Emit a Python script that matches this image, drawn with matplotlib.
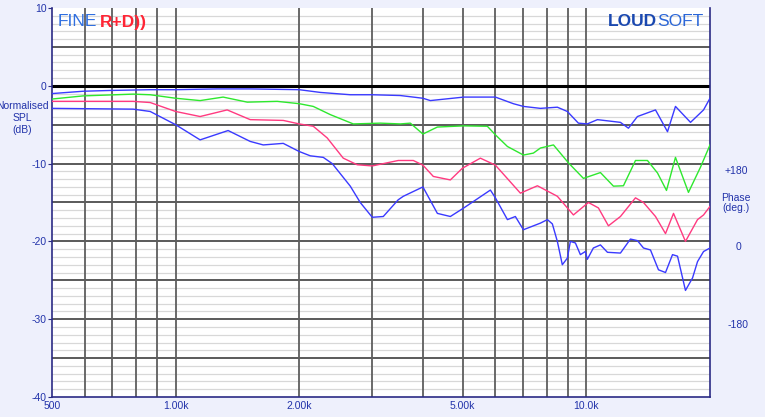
import matplotlib
matplotlib.use('Agg')
import matplotlib.pyplot as plt

plt.rcParams['font.family'] = ['Liberation Sans', 'DejaVu Sans']
plt.rcParams['axes.unicode_minus'] = False

# curves (Hz, dB)
top_f = [500, 595, 692, 867, 1000, 1262, 1519, 2000, 2249, 2662, 3011, 3523, 4000, 4170,
         5030, 6005, 6641, 7027, 7729, 8499, 8989, 9563, 10055, 10640, 12105, 12660,
         13315, 14735, 15760, 16480, 17930, 19290, 20000]
top_db = [-1.0, -0.7, -0.6, -0.5, -0.5, -0.4, -0.4, -0.5, -0.85, -1.15, -1.15, -1.25, -1.6, -1.9,
          -1.45, -1.45, -2.3, -2.65, -2.9, -2.75, -3.3, -4.8, -4.9, -4.35, -4.7, -5.45,
          -3.95, -3.1, -5.9, -2.65, -4.7, -3.1, -1.6]

green_f = [500, 595, 788, 867, 1000, 1147, 1305, 1494, 1767, 2000, 2163, 2379, 2707, 3149,
           3523, 3727, 4000, 4338, 5030, 5740, 6005, 6424, 7027, 7431, 7729, 8316, 9044,
           9837, 10820, 11640, 12310, 13170, 14085, 14899, 15671, 16480, 17725, 18965, 20000]
green_db = [-1.7, -1.3, -1.07, -1.15, -1.6, -1.9, -1.45, -2.1, -2.0, -2.3, -2.65, -3.7, -4.9, -4.8,
            -4.9, -4.8, -6.2, -5.3, -5.15, -5.2, -6.3, -7.8, -8.9, -8.65, -8.0, -7.6, -9.9,
            -11.9, -11.15, -12.9, -12.85, -9.6, -9.6, -11.2, -13.45, -9.2, -13.7, -10.45, -7.6]

pink_f = [500, 788, 867, 1000, 1147, 1335, 1519, 1828, 2000, 2163, 2339, 2559, 2768, 3011,
          3483, 3790, 4000, 4240, 4665, 4990, 5520, 6005, 6909, 7600, 8499, 9300, 10115,
          10700, 11317, 12105, 13170, 13775, 14735, 15585, 16300, 17430, 18648, 19290, 20000]
pink_db = [-2.0, -2.0, -2.15, -3.3, -3.95, -3.1, -4.35, -4.45, -4.9, -5.2, -6.7, -9.3, -10.15, -10.3,
           -9.6, -9.6, -10.2, -11.65, -12.1, -10.6, -9.3, -10.2, -13.8, -12.85, -14.2, -16.6, -15.0,
           -15.7, -18.0, -16.8, -14.4, -15.0, -16.8, -19.0, -16.4, -20.0, -17.2, -16.6, -15.5]

low_f = [500, 788, 867, 1000, 1147, 1342, 1519, 1634, 1828, 2000, 2127, 2288, 2406, 2662,
         2815, 3011, 3203, 3483, 3584, 4000, 4338, 4665, 5030, 5839, 6005, 6424, 6716, 7027,
         7729, 8038, 8264, 8499, 8739, 8989, 9143, 9404, 9670, 9943, 10055, 10400, 10820,
         11255, 12105, 12803, 13315, 13775, 14325, 14983, 15585, 16209, 16671, 17430, 18134,
         18648, 19290, 20000]
low_db = [-2.9, -3.0, -3.3, -5.0, -6.95, -5.75, -7.15, -7.6, -7.4, -8.45, -9.0, -9.2, -10.0, -12.9,
          -15.0, -16.9, -16.8, -14.65, -14.2, -13.0, -16.4, -16.8, -15.7, -13.4, -14.4, -17.2, -16.8, -18.5,
          -17.65, -17.2, -17.75, -20.0, -23.0, -22.15, -20.0, -20.2, -21.7, -21.3, -22.3, -20.85, -20.45,
          -21.4, -21.5, -19.7, -19.9, -20.85, -21.1, -23.65, -24.0, -21.7, -21.9, -26.3, -24.7,
          -22.6, -21.3, -20.85]

x_ticks = [500, 1000, 2000, 5000, 10000]
x_labels = ['500', '1.00k', '2.00k', '5.00k', '10.0k']
y_ticks = [10, 0, -10, -20, -30, -40]
vgrid = [600, 700, 800, 900, 1000, 2000, 3000, 4000, 5000, 6000, 7000, 8000, 9000, 10000]

label_col = '#2233aa'
navy = '#2b2b85'

fig = plt.figure(figsize=(7.65, 4.17), dpi=100, facecolor='#eef0fc')
ax = fig.add_axes([52 / 765, 20 / 417, 658 / 765, 389 / 417])
ax.set_facecolor('white')
ax.set_xscale('log')
ax.set_xlim(500, 20000)
ax.set_ylim(-40, 10)

for d in range(-39, 10):
    if d == 0:
        ax.axhline(d, color='black', lw=2.2, zorder=2)
    elif d % 5 == 0:
        ax.axhline(d, color='#5a5a5a', lw=1.4, zorder=1)
    else:
        ax.axhline(d, color='#d8d8d8', lw=0.9, zorder=0)
for f in vgrid:
    ax.axvline(f, color='#5e5e5e', lw=1.3, zorder=1)

ax.plot(top_f, top_db, color='#3a3aff', lw=1.0, zorder=3)
ax.plot(green_f, green_db, color='#2ee82e', lw=1.0, zorder=3)
ax.plot(pink_f, pink_db, color='#ff3a80', lw=1.0, zorder=3)
ax.plot(low_f, low_db, color='#3a3aff', lw=1.0, zorder=3)

ax.set_xticks(x_ticks)
ax.set_xticklabels(x_labels)
ax.xaxis.set_minor_locator(matplotlib.ticker.NullLocator())
ax.set_yticks(y_ticks)
ax.tick_params(axis='both', colors=navy, labelcolor=label_col, labelsize=7.5,
               length=3, pad=1)
ax.tick_params(axis='x', length=0, pad=3)

for s in ['left', 'right', 'bottom']:
    ax.spines[s].set_color(navy)
    ax.spines[s].set_linewidth(1.2)
ax.spines['top'].set_visible(False)

fig.text(22 / 765, 1 - 118 / 417, 'Normalised\nSPL\n(dB)', ha='center', va='center',
         fontsize=7.5, color=label_col, linespacing=1.2)
fig.text(736 / 765, 1 - 171 / 417, '+180', ha='center', va='center', fontsize=7.5, color=label_col)
fig.text(736 / 765, 1 - 203 / 417, 'Phase\n(deg.)', ha='center', va='center', fontsize=7.5,
         color=label_col, linespacing=1.1)
fig.text(738 / 765, 1 - 247 / 417, '0', ha='center', va='center', fontsize=7.5, color=label_col)
fig.text(738 / 765, 1 - 325 / 417, '-180', ha='center', va='center', fontsize=7.5, color=label_col)

fig.text(58 / 765, 1 - 22 / 417, 'FINE', ha='left', va='center', fontsize=12.5, color='#2f6fe0')
fig.text(100 / 765, 1 - 22 / 417, 'R+D))', ha='left', va='center', fontsize=12.5,
         color='#ff2535', fontweight='bold')
fig.text(657 / 765, 1 - 21 / 417, 'LOUD', ha='right', va='center', fontsize=12.5,
         color='#1a48b0', fontweight='bold')
fig.text(657 / 765, 1 - 21 / 417, 'SOFT', ha='left', va='center', fontsize=12.5, color='#2a66d8')

fig.savefig('out.png', dpi=100, facecolor=fig.get_facecolor())
